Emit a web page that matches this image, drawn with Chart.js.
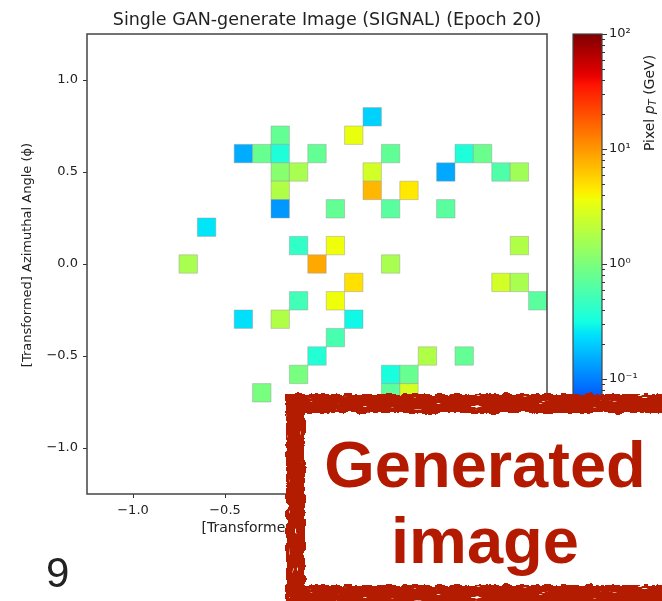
<!DOCTYPE html>
<html>
<head>
<meta charset="utf-8">
<script src="https://cdn.jsdelivr.net/npm/chart.js@4.4.1/dist/chart.umd.min.js"></script>
<style>
  html, body { margin: 0; padding: 0; background: #fff; }
  #pagina { position: relative; width: 662px; height: 601px; overflow: hidden; }
  #principal { position: absolute; left: 0; top: 0; }
  #barra { position: absolute; left: 560px; top: 0; }
  .sello-fondo { position: absolute; left: 292px; top: 400px; width: 400px; height: 220px; background: #fff; }
  .sello-lado { position: absolute; background: #b31a00; }
  .horiz { filter: url(#rayasH); }
  .vert { filter: url(#rayasV); }
  .sello-texto { position: absolute; left: 285px; width: 400px; text-align: center; color: #b31a00;
    font: bold 65px "Liberation Sans", Arial, sans-serif; line-height: 65px; white-space: nowrap; }
  #numero { position: absolute; left: 46px; top: 552px; color: #222;
    font: 42px "Liberation Sans", Arial, sans-serif; line-height: 42px; }
</style>
</head>
<body>
<svg width="0" height="0" style="position:absolute">
  <filter id="rayasH" x="-5%" y="-60%" width="110%" height="220%">
    <feTurbulence type="fractalNoise" baseFrequency="0.12" numOctaves="3" seed="4" result="ruido"/>
    <feDisplacementMap in="SourceGraphic" in2="ruido" scale="7" xChannelSelector="R" yChannelSelector="G" result="movido"/>
    <feTurbulence type="fractalNoise" baseFrequency="0.06 0.35" numOctaves="2" seed="11" result="manchas"/>
    <feColorMatrix in="manchas" type="matrix" values="0 0 0 0 0  0 0 0 0 0  0 0 0 0 0  -20 0 0 0 16" result="mascara"/>
    <feComposite in="movido" in2="mascara" operator="in"/>
  </filter>
  <filter id="rayasV" x="-60%" y="-5%" width="220%" height="110%">
    <feTurbulence type="fractalNoise" baseFrequency="0.12" numOctaves="3" seed="7" result="ruido"/>
    <feDisplacementMap in="SourceGraphic" in2="ruido" scale="7" xChannelSelector="R" yChannelSelector="G" result="movido"/>
    <feTurbulence type="fractalNoise" baseFrequency="0.35 0.06" numOctaves="2" seed="23" result="manchas"/>
    <feColorMatrix in="manchas" type="matrix" values="0 0 0 0 0  0 0 0 0 0  0 0 0 0 0  -20 0 0 0 16" result="mascara"/>
    <feComposite in="movido" in2="mascara" operator="in"/>
  </filter>
</svg>
<div id="pagina">
  <canvas id="principal" width="654" height="601"></canvas>
  <canvas id="barra" width="102" height="601"></canvas>
  <div class="sello-fondo"></div>
  <div class="sello-lado horiz" style="left:286px; top:394px; width:400px; height:19px"></div>
  <div class="sello-lado horiz" style="left:286px; top:585px; width:400px; height:20px"></div>
  <div class="sello-lado vert" style="left:286px; top:394px; width:19px; height:211px"></div>
  <div class="sello-texto" style="top:432px">Generated</div>
  <div class="sello-texto" style="top:508px">image</div>
  <div id="numero">9</div>
</div>
<script>
const TITULO = "Single GAN-generate Image (SIGNAL) (Epoch 20)";
const TITULO_Y = "[Transformed] Azimuthal Angle (\u03D5)";
const TITULO_X = "[Transformed] Pseudorapidity (\u03B7)";
const TAM_CELDA = 0.1;
const LIMITE = 1.25;
const PT_MIN = 0.01;
const PT_MAX = 100;

const ejeTicks = [-1.0, -0.5, 0.0, 0.5, 1.0];
const barraTicks = [0.01, 0.1, 1, 10, 100];

// centros de las celdas encendidas (eta, phi) y su pT en GeV
const celdaX = [
  0.3,
  -0.2, 0.2,
  -0.4, -0.3, -0.2, 0.0, 0.4, 0.8, 0.9,
  -0.2, -0.1, 0.3, 0.7, 1.0, 1.1,
  -0.2, 0.3, 0.5,
  -0.2, 0.1, 0.4, 0.7,
  -0.6,
  -0.1, 0.1, 1.1,
  -0.7, 0.0, 0.4,
  0.2, 1.0, 1.1,
  -0.1, 0.1, 1.2,
  -0.4, -0.2, 0.2,
  0.1,
  0.0, 0.6, 0.8,
  -0.1, 0.4, 0.5,
  -0.3, 0.4, 0.5
];
const celdaY = [
  0.8,
  0.7, 0.7,
  0.6, 0.6, 0.6, 0.6, 0.6, 0.6, 0.6,
  0.5, 0.5, 0.5, 0.5, 0.5, 0.5,
  0.4, 0.4, 0.4,
  0.3, 0.3, 0.3, 0.3,
  0.2,
  0.1, 0.1, 0.1,
  0.0, 0.0, 0.0,
  -0.1, -0.1, -0.1,
  -0.2, -0.2, -0.2,
  -0.3, -0.3, -0.3,
  -0.4,
  -0.5, -0.5, -0.5,
  -0.6, -0.6, -0.6,
  -0.7, -0.7, -0.7
];
const celdaPt = [
  0.21,
  0.76, 3.4,
  0.15, 0.79, 0.35, 0.76, 0.74, 0.35, 0.82,
  1.15, 1.64, 2.6, 0.145, 0.61, 1.5,
  1.8, 7.3, 4.5,
  0.125, 0.76, 0.68, 0.68,
  0.25,
  0.43, 3.6, 1.8,
  1.64, 8.5, 1.64,
  4.9, 2.6, 1.64,
  0.52, 3.6, 0.68,
  0.24, 1.8, 0.30,
  0.56,
  0.37, 1.8, 0.76,
  0.96, 0.33, 0.79,
  0.96, 0.7, 2.6
];

// mapa de color "jet" de matplotlib
const JET = {
  r: [[0, 0], [0.35, 0], [0.66, 1], [0.89, 1], [1, 0.5]],
  g: [[0, 0], [0.125, 0], [0.375, 1], [0.64, 1], [0.91, 0], [1, 0]],
  b: [[0, 0.5], [0.11, 1], [0.34, 1], [0.65, 0], [1, 0]]
};

function tramo(seg, t) {
  for (let i = 1; i < seg.length; i++) {
    if (t <= seg[i][0]) {
      let a = seg[i - 1], b = seg[i];
      return a[1] + (b[1] - a[1]) * (t - a[0]) / (b[0] - a[0]);
    }
  }
  return seg[seg.length - 1][1];
}

function colorJet(t) {
  t = Math.min(1, Math.max(0, t));
  let r = Math.round(255 * tramo(JET.r, t));
  let g = Math.round(255 * tramo(JET.g, t));
  let b = Math.round(255 * tramo(JET.b, t));
  return `rgb(${r},${g},${b})`;
}

function colorPt(v) {
  let t = (Math.log10(v) - Math.log10(PT_MIN)) / (Math.log10(PT_MAX) - Math.log10(PT_MIN));
  return colorJet(t);
}

function formatoTick(v) {
  return Number(v).toFixed(1).replace("-", "\u2212");
}

const SUP = { "-": "\u207B", "0": "\u2070", "1": "\u00B9", "2": "\u00B2", "3": "\u00B3" };
function potencia(v) {
  let e = String(Math.round(Math.log10(v)));
  return "10" + e.split("").map(c => SUP[c]).join("");
}

function ladoCelda(chart) {
  let s = chart.scales.x;
  return Math.abs(s.getPixelForValue(TAM_CELDA) - s.getPixelForValue(0));
}

const fuente = "DejaVu Sans";

const marcoEjes = {
  id: "marcoEjes",
  afterDatasetsDraw(chart) {
    const { ctx, chartArea: a } = chart;
    ctx.save();
    ctx.strokeStyle = "#444";
    ctx.lineWidth = 1.5;
    ctx.strokeRect(a.left, a.top, a.right - a.left, a.bottom - a.top);
    ctx.restore();
  }
};

// titulo de la figura y etiqueta del eje phi
const textosFigura = {
  id: "textosFigura",
  afterDraw(chart) {
    const ctx = chart.ctx;
    ctx.save();
    ctx.fillStyle = "#222";
    ctx.textAlign = "center";
    ctx.textBaseline = "middle";
    ctx.font = `17.5px "${fuente}"`;
    ctx.fillText(TITULO, 327, 20);
    ctx.translate(28, 255);
    ctx.rotate(-Math.PI / 2);
    ctx.font = `13px "${fuente}"`;
    ctx.fillText(TITULO_Y, 0, 0);
    ctx.restore();
  }
};

new Chart(document.getElementById("principal"), {
  type: "scatter",
  data: {
    datasets: [
      {
        data: celdaX.map((x, i) => ({ x: x, y: celdaY[i], v: celdaPt[i] })),
        pointStyle: "rect",
        pointRadius: ctx => ladoCelda(ctx.chart) / Math.SQRT2,
        pointBackgroundColor: ctx => colorPt(ctx.raw ? ctx.raw.v : 1),
        pointBorderColor: "rgba(150,150,150,0.45)",
        pointBorderWidth: 1,
      },
    ],
  },
  options: {
    responsive: false,
    animation: false,
    events: [],
    layout: { padding: { left: 0, right: 107, top: 34, bottom: 62 } },
    plugins: {
      legend: { display: false },
      tooltip: { enabled: false },
    },
    scales: {
      x: {
        type: "linear",
        min: -LIMITE,
        max: LIMITE,
        afterBuildTicks: s => { s.ticks = ejeTicks.map(v => ({ value: v })); },
        afterFit: s => { s.height = 45; },
        grid: { drawOnChartArea: false, tickLength: 4, tickColor: "#333" },
        border: { display: false },
        ticks: {
          padding: 5,
          color: "#222",
          maxRotation: 0,
          font: { family: fuente, size: 13 },
          callback: v => formatoTick(v),
        },
        title: {
          display: true,
          text: TITULO_X,
          color: "#222",
          font: { family: fuente, size: 14 },
          padding: { top: 0, bottom: 2 },
        },
      },
      y: {
        type: "linear",
        min: -LIMITE,
        max: LIMITE,
        afterBuildTicks: s => { s.ticks = ejeTicks.map(v => ({ value: v })); },
        afterFit: s => { s.width = 87; },
        grid: { drawOnChartArea: false, tickLength: 4, tickColor: "#333" },
        border: { display: false },
        ticks: {
          padding: 5,
          color: "#222",
          font: { family: fuente, size: 13 },
          callback: v => formatoTick(v),
        },
      },
    },
  },
  plugins: [marcoEjes, textosFigura],
});

// barra de color logaritmica con su etiqueta
const barraColor = {
  id: "barraColor",
  beforeDatasetsDraw(chart) {
    const { ctx, chartArea: a } = chart;
    const escala = chart.scales.y;
    ctx.save();
    for (let py = Math.floor(a.top); py < a.bottom; py++) {
      let v = escala.getValueForPixel(py + 0.5);
      ctx.fillStyle = colorPt(v);
      ctx.fillRect(a.left, py, a.right - a.left, 1);
    }
    ctx.strokeStyle = "#444";
    ctx.lineWidth = 1.2;
    ctx.strokeRect(a.left, a.top, a.right - a.left, a.bottom - a.top);

    // marcas menores 2..9 de cada decada
    ctx.strokeStyle = "#333";
    ctx.lineWidth = 1;
    for (let i = 0; i < barraTicks.length - 1; i++) {
      for (let k = 2; k <= 9; k++) {
        let py = Math.round(escala.getPixelForValue(barraTicks[i] * k)) + 0.5;
        ctx.beginPath();
        ctx.moveTo(a.right, py);
        ctx.lineTo(a.right + 3, py);
        ctx.stroke();
      }
    }

    // "Pixel p_T (GeV)" girado
    const partes = [
      { t: "Pixel ", f: `14px "${fuente}"`, dy: 0 },
      { t: "p", f: `italic 14px "${fuente}"`, dy: 0 },
      { t: "T", f: `italic 10px "${fuente}"`, dy: 3 },
      { t: " (GeV)", f: `14px "${fuente}"`, dy: 0 },
    ];
    let total = 0;
    partes.forEach(p => { ctx.font = p.f; p.w = ctx.measureText(p.t).width; total += p.w; });
    ctx.translate(90, 103);
    ctx.rotate(-Math.PI / 2);
    ctx.fillStyle = "#222";
    ctx.textBaseline = "middle";
    let x = -total / 2;
    partes.forEach(p => { ctx.font = p.f; ctx.fillText(p.t, x, p.dy); x += p.w; });
    ctx.restore();
  },
};

new Chart(document.getElementById("barra"), {
  type: "scatter",
  data: { datasets: [] },
  options: {
    responsive: false,
    animation: false,
    events: [],
    layout: { padding: { left: 13, right: 0, top: 34, bottom: 107 } },
    plugins: {
      legend: { display: false },
      tooltip: { enabled: false },
    },
    scales: {
      x: { display: false },
      y: {
        type: "logarithmic",
        position: "right",
        min: PT_MIN,
        max: PT_MAX,
        afterBuildTicks: s => { s.ticks = barraTicks.map(v => ({ value: v })); },
        afterFit: s => { s.width = 60; },
        grid: { drawOnChartArea: false, tickLength: 5, tickColor: "#333" },
        border: { display: false },
        ticks: {
          padding: 2,
          color: "#222",
          font: { family: fuente, size: 13 },
          callback: v => potencia(v),
        },
      },
    },
  },
  plugins: [barraColor],
});
</script>
</body>
</html>
